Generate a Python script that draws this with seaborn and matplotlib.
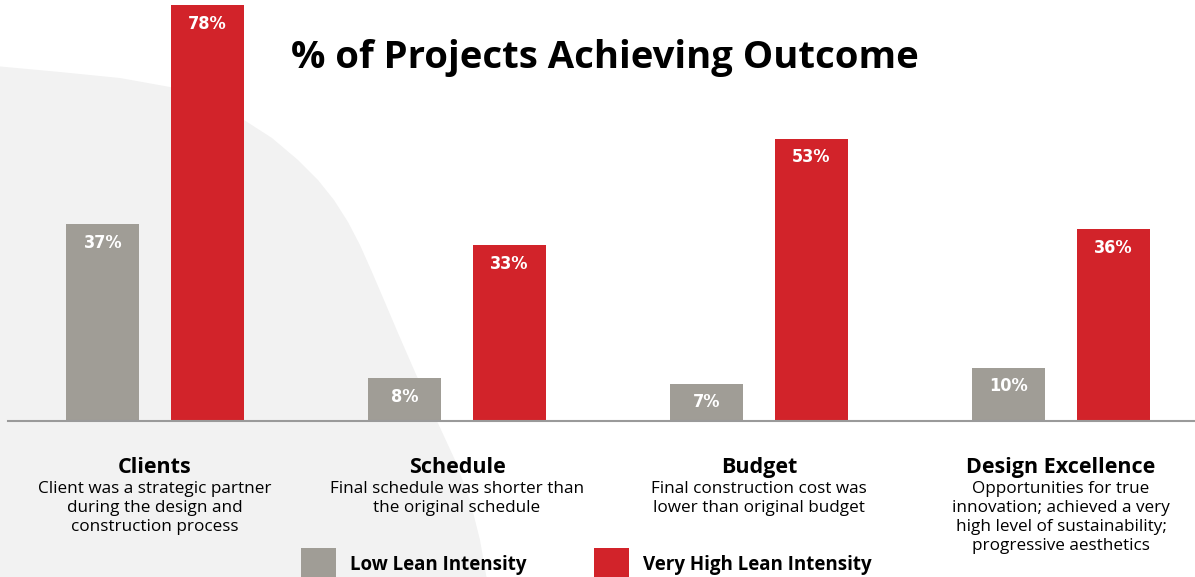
import numpy as np
import pandas as pd
import matplotlib
matplotlib.use("Agg")
import matplotlib.pyplot as plt
import seaborn as sns
from matplotlib.patches import Polygon, Rectangle

# data
categories = ["Clients", "Schedule", "Budget", "Design Excellence"]
descriptions = [
    "Client was a strategic partner\nduring the design and\nconstruction process",
    "Final schedule was shorter than\nthe original schedule",
    "Final construction cost was\nlower than original budget",
    "Opportunities for true\ninnovation; achieved a very\nhigh level of sustainability;\nprogressive aesthetics",
]
groups = ["Low Lean Intensity", "Very High Lean Intensity"]
low_lean = [37, 8, 7, 10]
very_high_lean = [78, 33, 53, 36]
colors = ["#a09d96", "#d2232a"]

df = pd.DataFrame({
    "category": categories * 2,
    "group": [groups[0]] * 4 + [groups[1]] * 4,
    "value": low_lean + very_high_lean,
})

sns.set_style("white")
plt.rcParams["font.family"] = ["Open Sans", "DejaVu Sans"]

W, H = 1195, 577
fig = plt.figure(figsize=(W / 100, H / 100), dpi=100)
fig.patch.set_facecolor("white")

def px(x, y):
    return (x / W, 1 - y / H)

# light grey background shape on the left
outline = [(-5, 66), (60, 72), (120, 78), (170, 87), (210, 100), (244, 120),
           (272, 138), (298, 160), (318, 180), (334, 200), (348, 222),
           (360, 245), (372, 272), (384, 300), (398, 333), (415, 372),
           (437, 421), (455, 460), (470, 500), (480, 540), (487, 580), (-5, 580)]
fig.patches.append(Polygon([px(x, y) for x, y in outline], closed=True,
                           transform=fig.transFigure, facecolor="#f2f2f2",
                           edgecolor="none", zorder=0))

ax = fig.add_axes([8 / W, 1 - 421 / H, (W - 8) / W, 421 / H])
ax.set_facecolor("none")
ax.set_zorder(1)

sns.barplot(data=df, x="category", y="value", hue="group", hue_order=groups,
            palette=colors, width=0.69, gap=0.3, saturation=1, linewidth=0,
            legend=False, ax=ax)

left = -(155 - 8) / 302
ax.set_xlim(left, (W - 155) / 302)
ax.set_ylim(0, 79)
ax.set_xlabel("")
ax.set_ylabel("")
ax.set_yticks([])
ax.set_xticks([])
ax.set_xticks([left, 0.5, 1.5, 2.5], minor=True)
ax.tick_params(axis="x", which="minor", length=5, width=1, color="#9a9a9a", direction="out")
for s in ["top", "left", "right"]:
    ax.spines[s].set_visible(False)
ax.spines["bottom"].set_color("#9a9a9a")
ax.spines["bottom"].set_linewidth(1.5)

# value labels inside the top of each bar
for cont, vals in zip(ax.containers, [low_lean, very_high_lean]):
    for bar, v in zip(cont, vals):
        ax.annotate(f"{v}%", (bar.get_x() + bar.get_width() / 2, v),
                    xytext=(0, -13.5), textcoords="offset points",
                    ha="center", va="center", color="white", fontsize=13,
                    fontweight="bold", fontstretch="condensed",
                    family=["DejaVu Sans"])

# category names and descriptions under the axis
tr = ax.get_xaxis_transform()
for i, (cat, desc) in enumerate(zip(categories, descriptions)):
    ax.text(i, -0.11, cat, transform=tr, ha="center", va="center",
            fontsize=15.5, fontweight="bold", color="black")
    ax.text(i, -0.142, desc, transform=tr, ha="center", va="top",
            fontsize=12.3, color="black", linespacing=1.25)

fig.text(605 / W, 1 - 58 / H, "% of Projects Achieving Outcome", ha="center",
         va="center", fontsize=27.5, fontweight="bold", color="black")

# legend at the bottom
for xs, xt, c, lab in [(301, 350, colors[0], groups[0]), (594, 643, colors[1], groups[1])]:
    fig.patches.append(Rectangle(px(xs, 578), 35 / W, 30 / H, transform=fig.transFigure,
                                 facecolor=c, edgecolor="none", zorder=2))
    fig.text(xt / W, 1 - 565 / H, lab, ha="left", va="center", fontsize=13.5,
             fontweight="bold", color="black")

fig.savefig("out.png", dpi=100)
